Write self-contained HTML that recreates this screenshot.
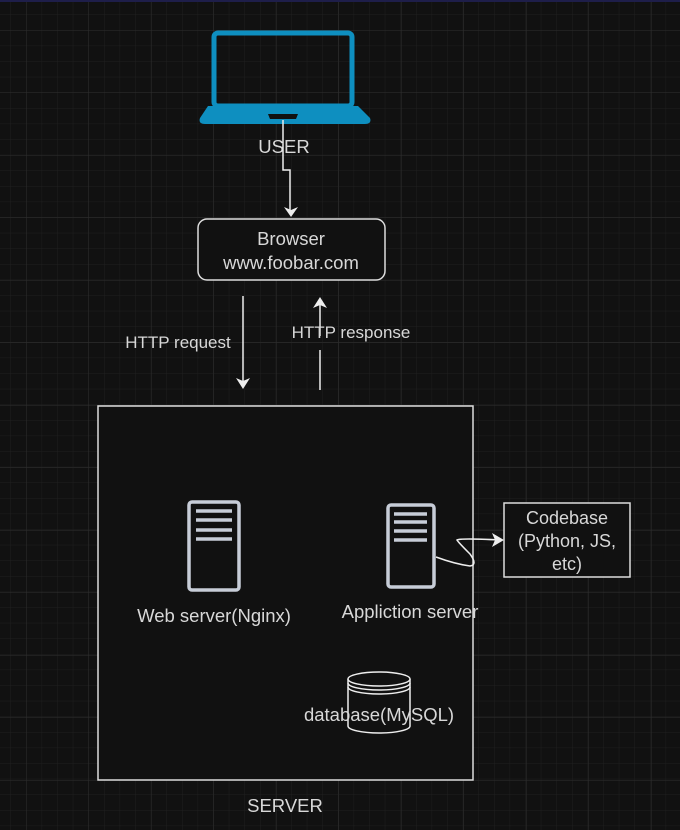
<!DOCTYPE html>
<html><head><meta charset="utf-8"><style>
html,body{margin:0;padding:0;background:#111}
svg{display:block}
text{font-family:"Liberation Sans",sans-serif;fill:#d8d8d8}
</style></head><body>
<svg width="680" height="830" viewBox="0 0 680 830" xmlns="http://www.w3.org/2000/svg">
<defs>
<pattern id="minor" x="10.4" y="14.4" width="15.6" height="15.6" patternUnits="userSpaceOnUse">
<path d="M0 0H15.6M0 0V15.6" stroke="#1f1f1f" stroke-width="1" fill="none"/>
</pattern>
<pattern id="major" x="26" y="30" width="62.5" height="62.5" patternUnits="userSpaceOnUse">
<path d="M0 0H62.5M0 0V62.5" stroke="#2e2e2e" stroke-width="1" fill="none"/>
</pattern>
</defs>
<rect width="680" height="830" fill="#111"/>
<rect width="680" height="830" fill="url(#minor)"/>
<rect width="680" height="830" fill="url(#major)"/>
<rect x="0" y="0" width="680" height="2" fill="#1e1e4a"/>

<!-- laptop -->
<rect x="214" y="33" width="138" height="73" rx="4" fill="none" stroke="#0e8fc0" stroke-width="5"/>
<path d="M208 106 H358 L370 118 Q372 124 365 124 H205 Q198 124 200 118 Z" fill="#0e8fc0"/>
<path d="M268 114 H298 L296 119 H270 Z" fill="#111"/>
<text x="284" y="153" font-size="18.5" text-anchor="middle">USER</text>
<path d="M283 120 V170 H290 V210" fill="none" stroke="#eee" stroke-width="1.5"/>
<path d="M284 207 L291 217 L298 207 L291 210 Z" fill="#eee"/>

<!-- browser -->
<rect x="198" y="219" width="187" height="61" rx="9" fill="#111" stroke="#ddd" stroke-width="1.5"/>
<text x="291" y="245" font-size="18.5" text-anchor="middle">Browser</text>
<text x="291" y="269" font-size="18.5" text-anchor="middle">www.foobar.com</text>

<!-- http arrows -->
<path d="M243 296 V386" stroke="#eee" stroke-width="1.5"/>
<path d="M236 378 L243 389 L250 378 L243 381 Z" fill="#eee"/>
<text x="178" y="348" font-size="17" text-anchor="middle">HTTP request</text>
<path d="M320 390 V350 M320 336 V302" stroke="#eee" stroke-width="1.5"/>
<path d="M313 308 L320 297 L327 308 L320 305 Z" fill="#eee"/>
<text x="351" y="338" font-size="17" text-anchor="middle">HTTP response</text>

<!-- server box -->
<rect x="98" y="406" width="375" height="374" fill="#111" stroke="#ddd" stroke-width="1.5"/>
<text x="285" y="812" font-size="18.5" text-anchor="middle">SERVER</text>

<!-- web server icon -->
<rect x="189" y="502" width="50" height="88" rx="3" fill="#111" stroke="#c7cdd8" stroke-width="3.5"/>
<path d="M196 511H232M196 520H232M196 530H232M196 539H232" stroke="#c7cdd8" stroke-width="3.5"/>
<text x="214" y="622" font-size="18.5" text-anchor="middle">Web server(Nginx)</text>

<!-- app server icon -->
<rect x="388" y="505" width="46" height="82" rx="3" fill="#111" stroke="#c7cdd8" stroke-width="3.5"/>
<path d="M394 514H427M394 522H427M394 531H427M394 540H427" stroke="#c7cdd8" stroke-width="3.5"/>
<text x="410" y="618" font-size="18.5" text-anchor="middle">Appliction server</text>

<!-- connector -->
<path d="M436 557 Q455 564 470 566 Q478 565 470 554 Q458 542 457 540 Q460 538 500 540" fill="none" stroke="#eee" stroke-width="1.5"/>
<path d="M492 533 L504 540 L492 547 L495 540 Z" fill="#eee"/>

<!-- codebase -->
<rect x="504" y="503" width="126" height="74" fill="#111" stroke="#ddd" stroke-width="1.5"/>
<text x="567" y="524" font-size="18" text-anchor="middle">Codebase</text>
<text x="567" y="547" font-size="18" text-anchor="middle">(Python, JS,</text>
<text x="567" y="570" font-size="18" text-anchor="middle">etc)</text>

<!-- database -->
<path d="M348 679 V726 A31 7 0 0 0 410 726 V679" fill="#111" stroke="#eee" stroke-width="1.5"/>
<ellipse cx="379" cy="679" rx="31" ry="7" fill="#111" stroke="#eee" stroke-width="1.5"/>
<path d="M348 683 A31 7 0 0 0 410 683 M348 687 A31 7 0 0 0 410 687" fill="none" stroke="#eee" stroke-width="1.5"/>
<text x="379" y="721" font-size="18.5" text-anchor="middle">database(MySQL)</text>
</svg>
</body></html>
